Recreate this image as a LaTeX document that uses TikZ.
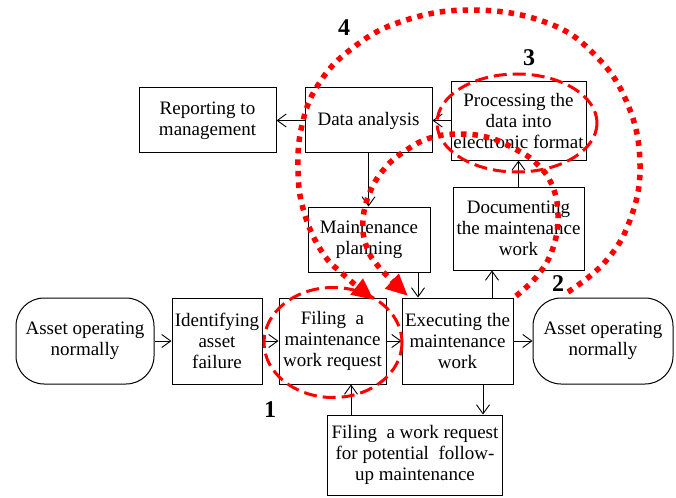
\documentclass[tikz,border=0pt]{standalone}
\usepackage{fontspec}
\setmainfont{Liberation Serif}
\usetikzlibrary{arrows.meta}

\begin{document}
\begin{tikzpicture}[x=1pt,y=-1pt,
  stage/.style={draw, line width=1pt, align=center, inner sep=0pt,
    font=\fontsize{19}{21}\selectfont},
  terminal/.style={stage, rounded corners=28pt},
  flow/.style={line width=0.9pt, -{Straight Barb[length=9pt,width=13pt]}},
  loopdots/.style={red, line width=5.5pt, dash pattern=on 5.5pt off 6pt,
    -{Triangle[length=22pt,width=19pt]}},
  loopdash/.style={red, line width=3pt, dash pattern=on 13pt off 6pt},
  tag/.style={font=\fontsize{24}{24}\selectfont\bfseries}]
\useasboundingbox (0,0) rectangle (676,497);

% upper part
\node (report) [stage, minimum width=137pt, minimum height=65pt] at (207.5,120.5)
  {Reporting to\\management};
\node (analysis) [stage, minimum width=127pt, minimum height=65pt] at (368.5,120.5)
  {Data analysis};
\node (process) [stage, minimum width=135pt, minimum height=78pt] at (518.5,121)
  {Processing the\\data into\\electronic format};
\node (planning) [stage, minimum width=122pt, minimum height=65pt] at (369,239.5)
  {Maintenance\\planning};
\node (document) [stage, minimum width=131pt, minimum height=83pt] at (518.5,228.5)
  {Documenting\\the maintenance\\work};

% main row
\node (start) [terminal, minimum width=138pt, minimum height=86pt] at (85,341)
  {Asset operating\\normally};
\node (identify) [stage, minimum width=90pt, minimum height=86pt] at (217,341)
  {Identifying\\asset\\failure};
\node (request) [stage, minimum width=107pt, minimum height=86pt] at (332.5,341)
  {Filing~ a\\maintenance\\work request};
\node (execute) [stage, minimum width=111pt, minimum height=86pt] at (457.5,341)
  {Executing the\\maintenance\\work};
\node (finish) [terminal, minimum width=140pt, minimum height=86pt] at (603,341)
  {Asset operating\\normally};
\node (followup) [stage, minimum width=175pt, minimum height=80pt] at (415,455)
  {Filing~ a work request\\for potential~ follow-\\up maintenance};

\draw [flow] (start) -- (identify);
\draw [flow] (identify) -- (request);
\draw [flow] (request) -- (execute);
\draw [flow] (execute) -- (finish);
\draw [flow] ([xshift=25.5pt]execute.south) -- ([xshift=25.5pt]execute.south |- followup.north);
\draw [flow] ([xshift=-64pt]followup.north) -- ([xshift=-64pt]followup.north |- request.south);
\draw [flow] ([xshift=34.5pt]execute.north) -- ([xshift=34.5pt]execute.north |- document.south);
\draw [flow] (document.north) -- (process.south);
\draw [flow] (process.west |- analysis.east) -- (analysis.east);
\draw [flow] (analysis) -- (report);
\draw [flow] (analysis.south) -- (analysis.south |- planning.north);
\draw [flow] ([xshift=49pt]planning.south) -- ([xshift=49pt]planning.south |- execute.north);

% red marks
\draw [loopdash] (333,342.5) ellipse [x radius=69, y radius=55];
\draw [loopdash] (517,123) ellipse [x radius=80, y radius=49];
\draw [loopdots] plot [smooth, tension=0.7] coordinates {(568,292) (605,262)
  (630,220) (640,165) (628,105) (595,55) (545,22) (470,10) (400,22) (350,50)
  (318,85) (302,125) (298,170) (304,212) (322,252) (345,276) (374,300)};
\draw [loopdots] plot [smooth, tension=0.7] coordinates {(516,296) (538,275)
  (553,248) (558,215) (552,185) (536,163) (515,149) (490,138) (460,134)
  (430,138) (405,151) (385,168) (370,192) (363,220) (366,245) (378,266)
  (408,296)};
\node (one) [tag] at (270,410) {1};
\node (two) [tag] at (558,284) {2};
\node (three) [tag] at (529,58) {3};
\node (four) [tag] at (344,28) {4};
\end{tikzpicture}
\end{document}
